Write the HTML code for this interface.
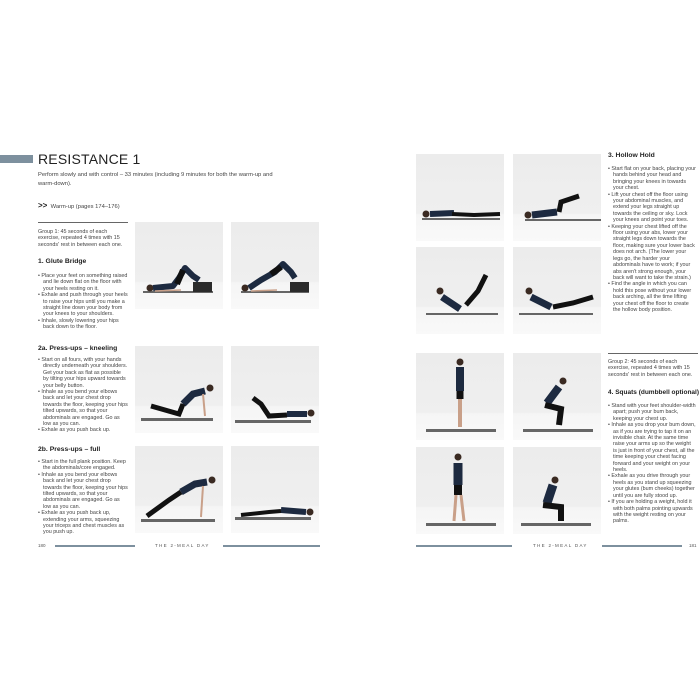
<!DOCTYPE html>
<html><head><meta charset="utf-8"><style>
*{margin:0;padding:0;box-sizing:border-box}
body{width:700px;height:700px;background:#fff;position:relative;overflow:hidden;font-family:"Liberation Sans",sans-serif;color:#333}
.a{position:absolute}
.p{position:absolute;width:88px;height:87px;background:linear-gradient(#ececec 0%,#efefef 68%,#f5f5f5 70%,#f9f9f9 100%)}
.p svg{width:100%;height:100%;display:block}
.t{position:absolute;font-size:5.4px;line-height:6.4px;color:#444}
.t ul{list-style:none}
.t li{padding-left:5px;text-indent:-5px}
.h{position:absolute;font-size:6.8px;font-weight:bold;color:#222;white-space:nowrap}
.ln{position:absolute;height:2px;background:#7d909e}
.ft{position:absolute;font-size:4.5px;letter-spacing:1.3px;color:#555}
</style></head><body>
<div class="a" style="left:0;top:155px;width:33px;height:8px;background:#7d909e"></div>
<div class="a" style="left:38px;top:151px;font-size:14px;color:#222;letter-spacing:0.2px">RESISTANCE 1</div>
<div class="t" style="left:38px;top:171px;width:250px;font-size:5.8px;line-height:9px">Perform slowly and with control – 33 minutes (including 9 minutes for both the warm-up and warm-down).</div>
<div class="t" style="left:38px;top:203px;font-size:5.8px"><b style="font-size:8px;color:#222">&gt;&gt;</b>&nbsp; Warm-up (pages 174–176)</div>
<div class="a" style="left:38px;top:222px;width:90px;height:1px;background:#666"></div>
<div class="t" style="left:38px;top:229px;width:90px">Group 1: 45 seconds of each exercise, repeated 4 times with 15 seconds' rest in between each one.</div>
<div class="h" style="left:38px;top:258px">1. Glute Bridge</div>
<div class="t" style="left:38px;top:273px;width:90px"><ul><li>• Place your feet on something raised and lie down flat on the floor with your heels resting on it.</li><li>• Exhale and push through your heels to raise your hips until you make a straight line down your body from your knees to your shoulders.</li><li>• Inhale, slowly lowering your hips back down to the floor.</li></ul></div>
<div class="h" style="left:38px;top:345px">2a. Press-ups – kneeling</div>
<div class="t" style="left:38px;top:357px;width:90px"><ul><li>• Start on all fours, with your hands directly underneath your shoulders. Get your back as flat as possible by tilting your hips upward towards your belly button.</li><li>• Inhale as you bend your elbows back and let your chest drop towards the floor, keeping your hips tilted upwards, so that your abdominals are engaged. Go as low as you can.</li><li>• Exhale as you push back up.</li></ul></div>
<div class="h" style="left:38px;top:446px">2b. Press-ups – full</div>
<div class="t" style="left:38px;top:459px;width:90px"><ul><li>• Start in the full plank position. Keep the abdominals/core engaged.</li><li>• Inhale as you bend your elbows back and let your chest drop towards the floor, keeping your hips tilted upwards, so that your abdominals are engaged. Go as low as you can.</li><li>• Exhale as you push back up, extending your arms, squeezing your triceps and chest muscles as you push up.</li></ul></div>

<div class="p" style="left:135px;top:222px"><svg viewBox="0 0 88 87"><rect x="8" y="69" width="70" height="2" fill="#666"/><rect x="58" y="60" width="19" height="10" fill="#2b2b2b"/><circle cx="15" cy="66" r="3.5" fill="#3a2a22"/><path d="M18 66 L38 64 L44 56 L50 46 L58 54 L64 58" stroke="#1d2a40" stroke-width="6" fill="none" stroke-linejoin="round"/><path d="M42 62 L48 48" stroke="#111" stroke-width="6"/><path d="M20 69 L46 68" stroke="#c9a089" stroke-width="1.5"/></svg></div>
<div class="p" style="left:231px;top:222px"><svg viewBox="0 0 88 87"><rect x="10" y="69" width="68" height="2" fill="#666"/><rect x="59" y="60" width="19" height="10" fill="#2b2b2b"/><circle cx="14" cy="66" r="3.5" fill="#3a2a22"/><path d="M18 66 L30 58 L44 50 L52 42 L60 50 L64 56" stroke="#1d2a40" stroke-width="6" fill="none" stroke-linejoin="round"/><path d="M40 52 L50 45" stroke="#111" stroke-width="6"/><path d="M20 69 L46 68" stroke="#c9a089" stroke-width="1.5"/></svg></div>
<div class="p" style="left:135px;top:346px"><svg viewBox="0 0 88 87"><rect x="6" y="72" width="72" height="3" fill="#666"/><circle cx="75" cy="42" r="3.5" fill="#3a2a22"/><path d="M70 45 L58 48 L48 58" stroke="#1d2a40" stroke-width="7" fill="none"/><path d="M48 58 L44 68 L30 64 L16 60" stroke="#111" stroke-width="5" fill="none"/><path d="M68 48 L70 70" stroke="#c9a089" stroke-width="2"/></svg></div>
<div class="p" style="left:231px;top:346px"><svg viewBox="0 0 88 87"><rect x="4" y="74" width="76" height="3" fill="#666"/><circle cx="80" cy="67" r="3.5" fill="#3a2a22"/><path d="M76 68 L56 68" stroke="#1d2a40" stroke-width="6"/><path d="M56 69 L38 70 L30 58 L22 52" stroke="#111" stroke-width="5" fill="none"/></svg></div>
<div class="p" style="left:135px;top:446px"><svg viewBox="0 0 88 87"><rect x="6" y="73" width="74" height="3" fill="#666"/><circle cx="77" cy="34" r="3.5" fill="#3a2a22"/><path d="M72 36 L60 38 L46 46" stroke="#1d2a40" stroke-width="7" fill="none"/><path d="M46 46 L34 54 L12 70" stroke="#111" stroke-width="5" fill="none"/><path d="M68 40 L66 71" stroke="#c9a089" stroke-width="2"/></svg></div>
<div class="p" style="left:231px;top:446px"><svg viewBox="0 0 88 87"><rect x="4" y="71" width="76" height="3" fill="#666"/><circle cx="79" cy="66" r="3.5" fill="#3a2a22"/><path d="M75 66 L50 64" stroke="#1d2a40" stroke-width="6"/><path d="M50 65 L38 66 L10 69" stroke="#111" stroke-width="4" fill="none"/></svg></div>

<div class="ft" style="left:38px;top:543px;letter-spacing:0">180</div>
<div class="ln" style="left:55px;top:545px;width:80px"></div>
<div class="ft" style="left:155px;top:543px">THE 2-MEAL DAY</div>
<div class="ln" style="left:223px;top:545px;width:97px"></div>

<div class="p" style="left:416px;top:154px"><svg viewBox="0 0 88 87"><rect x="6" y="64" width="78" height="2" fill="#666"/><circle cx="10" cy="60" r="3.5" fill="#3a2a22"/><path d="M14 60 L38 59" stroke="#1d2a40" stroke-width="6"/><path d="M36 60 L58 61 L84 60" stroke="#111" stroke-width="4" fill="none"/></svg></div>
<div class="p" style="left:513px;top:154px"><svg viewBox="0 0 88 87"><rect x="12" y="65" width="76" height="2" fill="#666"/><circle cx="15" cy="61" r="3.5" fill="#3a2a22"/><path d="M19 61 L44 58" stroke="#1d2a40" stroke-width="7"/><path d="M46 58 L48 48 L66 42" stroke="#111" stroke-width="5" fill="none"/></svg></div>
<div class="p" style="left:416px;top:247px"><svg viewBox="0 0 88 87"><rect x="10" y="66" width="72" height="2" fill="#666"/><circle cx="24" cy="44" r="3.5" fill="#3a2a22"/><path d="M26 50 L44 62" stroke="#1d2a40" stroke-width="7"/><path d="M50 58 L62 44 L70 28" stroke="#111" stroke-width="5" fill="none"/></svg></div>
<div class="p" style="left:513px;top:247px"><svg viewBox="0 0 88 87"><rect x="6" y="66" width="74" height="2" fill="#666"/><circle cx="16" cy="44" r="3.5" fill="#3a2a22"/><path d="M18 50 L38 60" stroke="#1d2a40" stroke-width="7"/><path d="M40 60 L60 56 L80 50" stroke="#111" stroke-width="5" fill="none"/></svg></div>
<div class="p" style="left:416px;top:353px"><svg viewBox="0 0 88 87"><rect x="10" y="76" width="70" height="3" fill="#666"/><circle cx="44" cy="9" r="3.5" fill="#3a2a22"/><path d="M44 14 L44 38" stroke="#1d2a40" stroke-width="8"/><path d="M44 38 L44 46" stroke="#111" stroke-width="7"/><path d="M44 46 L44 74" stroke="#c9a089" stroke-width="4"/></svg></div>
<div class="p" style="left:513px;top:353px"><svg viewBox="0 0 88 87"><rect x="10" y="76" width="70" height="3" fill="#666"/><circle cx="50" cy="28" r="3.5" fill="#3a2a22"/><path d="M46 34 L34 50" stroke="#1d2a40" stroke-width="8"/><path d="M32 52 L48 56 L46 72" stroke="#111" stroke-width="6" fill="none"/></svg></div>
<div class="p" style="left:416px;top:447px"><svg viewBox="0 0 88 87"><rect x="10" y="76" width="70" height="3" fill="#666"/><circle cx="42" cy="10" r="3.5" fill="#3a2a22"/><path d="M42 16 L42 38" stroke="#1d2a40" stroke-width="9"/><path d="M42 38 L42 48" stroke="#111" stroke-width="8"/><path d="M40 48 L38 74 M45 48 L48 74" stroke="#c9a089" stroke-width="3"/></svg></div>
<div class="p" style="left:513px;top:447px"><svg viewBox="0 0 88 87"><rect x="8" y="76" width="70" height="3" fill="#666"/><circle cx="42" cy="33" r="3.5" fill="#3a2a22"/><path d="M40 38 L34 56" stroke="#1d2a40" stroke-width="9"/><path d="M30 58 L48 60 L48 74" stroke="#111" stroke-width="6" fill="none"/></svg></div>

<div class="h" style="left:608px;top:152px">3. Hollow Hold</div>
<div class="t" style="left:608px;top:166px;width:88px"><ul><li>• Start flat on your back, placing your hands behind your head and bringing your knees in towards your chest.</li><li>• Lift your chest off the floor using your abdominal muscles, and extend your legs straight up towards the ceiling or sky. Lock your knees and point your toes.</li><li>• Keeping your chest lifted off the floor using your abs, lower your straight legs down towards the floor, making sure your lower back does not arch. (The lower your legs go, the harder your abdominals have to work; if your abs aren't strong enough, your back will want to take the strain.)</li><li>• Find the angle in which you can hold this pose without your lower back arching, all the time lifting your chest off the floor to create the hollow body position.</li></ul></div>
<div class="a" style="left:608px;top:353px;width:90px;height:1px;background:#666"></div>
<div class="t" style="left:608px;top:359px;width:90px">Group 2: 45 seconds of each exercise, repeated 4 times with 15 seconds' rest in between each one.</div>
<div class="h" style="left:608px;top:389px;font-size:6.5px">4. Squats (dumbbell optional)</div>
<div class="t" style="left:608px;top:403px;width:88px"><ul><li>• Stand with your feet shoulder-width apart; push your bum back, keeping your chest up.</li><li>• Inhale as you drop your bum down, as if you are trying to tap it on an invisible chair. At the same time raise your arms up so the weight is just in front of your chest, all the time keeping your chest facing forward and your weight on your heels.</li><li>• Exhale as you drive through your heels as you stand up squeezing your glutes (bum cheeks) together until you are fully stood up.</li><li>• If you are holding a weight, hold it with both palms pointing upwards with the weight resting on your palms.</li></ul></div>

<div class="ln" style="left:416px;top:545px;width:96px"></div>
<div class="ft" style="left:533px;top:543px">THE 2-MEAL DAY</div>
<div class="ln" style="left:602px;top:545px;width:80px"></div>
<div class="ft" style="left:689px;top:543px;letter-spacing:0">181</div>
</body></html>
